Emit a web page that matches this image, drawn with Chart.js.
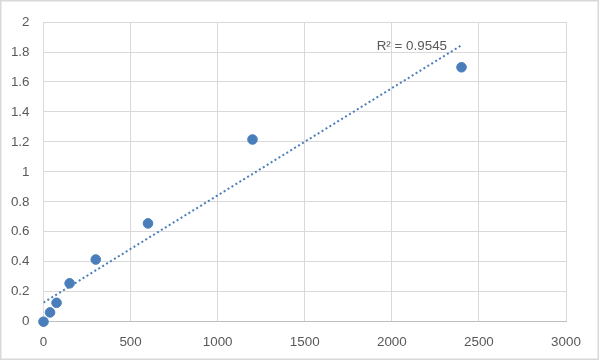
<!DOCTYPE html>
<html>
<head>
<meta charset="utf-8">
<script src="https://cdn.jsdelivr.net/npm/chart.js@4.4.0/dist/chart.umd.min.js"></script>
<style>
  html, body { margin: 0; padding: 0; background: #fff; }
  #wrap { width: 600px; height: 361px; position: relative; }
</style>
</head>
<body>
<div id="wrap"><canvas id="c" width="600" height="361"></canvas></div>
<script>
// Data
const concentrations = [0, 37.5, 75, 150, 300, 600, 1200, 2400];
const absorbances = [0, 0.062, 0.126, 0.256, 0.415, 0.656, 1.216, 1.698];
const xTickValues = [0, 500, 1000, 1500, 2000, 2500, 3000];
const yTickValues = [0, 0.2, 0.4, 0.6, 0.8, 1, 1.2, 1.4, 1.6, 1.8, 2];
const rSquaredLabel = 'R² = 0.9545';

// Linear least-squares trendline through the points
const n = concentrations.length;
const mx = concentrations.reduce((a, b) => a + b, 0) / n;
const my = absorbances.reduce((a, b) => a + b, 0) / n;
let sxy = 0, sxx = 0;
for (let i = 0; i < n; i++) {
  sxy += (concentrations[i] - mx) * (absorbances[i] - my);
  sxx += (concentrations[i] - mx) ** 2;
}
const slope = sxy / sxx;
const intercept = my - slope * mx;
const xMin = Math.min(...concentrations), xMax = Math.max(...concentrations);
const trend = [
  { x: xMin, y: intercept + slope * xMin },
  { x: xMax, y: intercept + slope * xMax }
];

const blue = '#4A7EBB';
const textColor = '#595959';
const font = { family: '"Liberation Sans", Arial, sans-serif', size: 13.4 };

const borderPlugin = {
  id: 'outerBorder',
  beforeDraw(chart) {
    const ctx = chart.ctx;
    ctx.save();
    ctx.fillStyle = '#fff';
    ctx.fillRect(0, 0, chart.width, chart.height);
    ctx.restore();
  },
  afterDraw(chart) {
    const ctx = chart.ctx;
    ctx.save();
    ctx.strokeStyle = '#d9d9d9';
    ctx.lineWidth = 1.5;
    ctx.strokeRect(0.75, 0.75, chart.width - 2.5, chart.height - 2.5);
    // R² label
    const xs = chart.scales.x, ys = chart.scales.y;
    ctx.fillStyle = textColor;
    ctx.font = `${font.size}px ${font.family}`;
    ctx.textAlign = 'left';
    ctx.textBaseline = 'middle';
    ctx.fillText(rSquaredLabel, xs.getPixelForValue(1913), ys.getPixelForValue(1.84));
    ctx.restore();
  }
};

new Chart(document.getElementById('c'), {
  type: 'scatter',
  data: {
    datasets: [
      {
        label: 'Points',
        data: concentrations.map((x, i) => ({ x, y: absorbances[i] })),
        backgroundColor: blue,
        borderColor: blue,
        pointRadius: 4.8,
        pointHoverRadius: 4.8,
        showLine: false,
        clip: false
      },
      {
        label: 'Trend',
        data: trend,
        showLine: true,
        borderColor: blue,
        borderWidth: 2,
        borderDash: [2, 2.6],
        pointRadius: 0,
        fill: false
      }
    ]
  },
  options: {
    responsive: false,
    animation: false,
    events: [],
    layout: { padding: { left: 0, right: 34, top: 19.5, bottom: 0 } },
    plugins: { legend: { display: false }, tooltip: { enabled: false } },
    scales: {
      x: {
        type: 'linear',
        min: 0, max: 3000,
        afterBuildTicks(scale) { scale.ticks = xTickValues.map(v => ({ value: v })); },
        afterFit(scale) { scale.height = 39.3; },
        grid: { color: '#d9d9d9', lineWidth: 1, drawTicks: false },
        border: { color: '#bfbfbf', width: 1 },
        ticks: { color: textColor, font, padding: 13, callback: v => String(v) }
      },
      y: {
        type: 'linear',
        min: 0, max: 2,
        afterBuildTicks(scale) { scale.ticks = yTickValues.map(v => ({ value: v })); },
        afterFit(scale) { scale.width = 43.5; },
        grid: { color: '#d9d9d9', lineWidth: 1, drawTicks: false },
        border: { color: '#d9d9d9', width: 1 },
        ticks: { color: textColor, font, padding: 14, callback: v => String(Number(v.toFixed(1))) }
      }
    }
  },
  plugins: [borderPlugin]
});
</script>
</body>
</html>
